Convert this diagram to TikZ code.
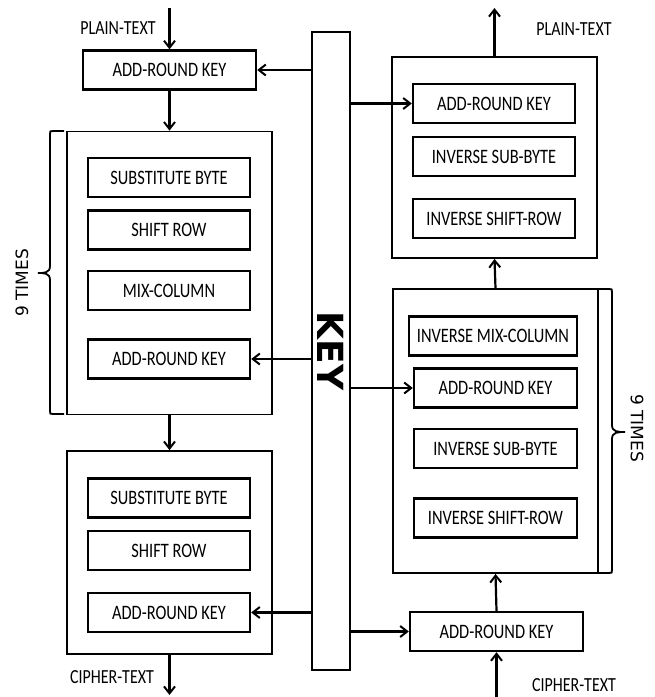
\documentclass[tikz,border=0pt]{standalone}
\usepackage{fontspec}
\setmainfont[FakeStretch=0.8]{Carlito}
\newfontfamily\widefont{DejaVu Sans}
\usetikzlibrary{arrows.meta}

\tikzset{
  box/.style={draw, line width=2.4pt, minimum width=162pt, minimum height=39pt,
    inner sep=0pt, font=\fontsize{20.5}{22}\selectfont},
  frame/.style={draw, line width=1.8pt, minimum width=205pt, inner sep=0pt},
  arr/.style={-{Straight Barb[length=7pt,width=11pt,line width=2pt]}, line width=2.2pt},
  lbl/.style={inner sep=0pt, font=\fontsize{20}{22}\selectfont},
  brace/.style={line width=1.8pt},
  times/.style={inner sep=0pt, font=\widefont\fontsize{17}{18}\selectfont},
}

\begin{document}
\begin{tikzpicture}[x=1pt,y=-1pt]
\useasboundingbox (0,0) rectangle (655,697);

% key column
\node[draw, line width=1.8pt, minimum width=38pt, minimum height=638pt, inner sep=0pt,
  font=\widefont\bfseries\fontsize{36}{36}\selectfont] (key) at (331,351) {\rotatebox{-90}{KEY}};

% encryption side
\node[box, minimum width=173pt] (ark0) at (169.5,70) {ADD-ROUND KEY};
\node[frame, minimum height=283pt] (r1) at (169.5,273) {};
\node[box] (sb1) at (169,177.5) {SUBSTITUTE BYTE};
\node[box] (sr1) at (169,230) {SHIFT ROW};
\node[box] (mc1) at (169,290.5) {MIX-COLUMN};
\node[box] (ark1) at (169,359) {ADD-ROUND KEY};
\node[frame, minimum height=203pt] (r2) at (169.5,552.5) {};
\node[box] (sb2) at (169,498) {SUBSTITUTE BYTE};
\node[box] (sr2) at (169,550.5) {SHIFT ROW};
\node[box] (ark2) at (169,612.5) {ADD-ROUND KEY};

\node[lbl] (pt1) at (118,28) {PLAIN-TEXT};
\node[lbl] (ct1) at (112,677) {CIPHER-TEXT};
\coordinate (ptin) at (169.5,8);
\coordinate (ctout) at (169.5,695);

\draw[arr] (ptin) -- (ark0.north);
\draw[arr] (ark0.south) -- (r1.north);
\draw[arr] (r1.south) -- (r2.north);
\draw[arr] (r2.south) -- (ctout);

\draw[arr] (key.west |- ark0.east) -- (ark0.east);
\draw[arr] (key.west |- ark1.east) -- (ark1.east);
\draw[arr] (key.west |- ark2.east) -- (ark2.east);

% left brace
\draw[brace] (64,131) -- (53,131) .. controls (50,131) .. (50,134) -- (50,266)
  .. controls (50,273) and (44,273) .. (38,273);
\draw[brace] (38,273) .. controls (44,273) and (50,273) .. (50,280) -- (50,411)
  .. controls (50,414) .. (53,414) -- (64,414);
\node[times, rotate=90] (n1) at (22,283) {9 TIMES};

% decryption side
\node[frame, minimum height=201pt] (rt) at (494.5,157.5) {};
\node[box] (ark3) at (494,103.5) {ADD-ROUND KEY};
\node[box] (isb3) at (494,156.5) {INVERSE SUB-BYTE};
\node[box] (isr3) at (494,218.5) {INVERSE SHIFT-ROW};
\node[frame, minimum height=284pt] (rb) at (495.5,431) {};
\node[box, minimum width=168pt] (imc4) at (493,336) {INVERSE MIX-COLUMN};
\node[box, minimum width=163pt] (ark4) at (495.5,388) {ADD-ROUND KEY};
\node[box, minimum width=163pt] (isb4) at (495.5,448.5) {INVERSE SUB-BYTE};
\node[box, minimum width=163pt] (isr4) at (495.5,518) {INVERSE SHIFT-ROW};
\node[box, minimum width=173pt] (ark5) at (496.5,631.5) {ADD-ROUND KEY};

\node[lbl] (pt2) at (574,29) {PLAIN-TEXT};
\node[lbl] (ct2) at (574,685) {CIPHER-TEXT};
\coordinate (ctin) at (ark5.south |- 0,697);
\coordinate (ptout) at (rt.north |- 0,8);

\draw[arr] (ctin) -- (ark5.south);
\draw[arr] (ark5.north) -- (rb.south);
\draw[arr] (rb.north) -- (rt.south);
\draw[arr] (rt.north) -- (ptout);

\draw[arr] (key.east |- ark3.west) -- (ark3.west);
\draw[arr] (key.east |- ark4.west) -- (ark4.west);
\draw[arr] (key.east |- ark5.west) -- (ark5.west);

% right brace
\draw[brace] (598,289) -- (609,289) .. controls (612,289) .. (612,292) -- (612,425)
  .. controls (612,432) and (618,432) .. (625,432);
\draw[brace] (625,432) .. controls (618,432) and (612,432) .. (612,439) -- (612,570)
  .. controls (612,573) .. (609,573) -- (598,573);
\node[times, rotate=-90] (n2) at (637,428) {9 TIMES};
\end{tikzpicture}
\end{document}
